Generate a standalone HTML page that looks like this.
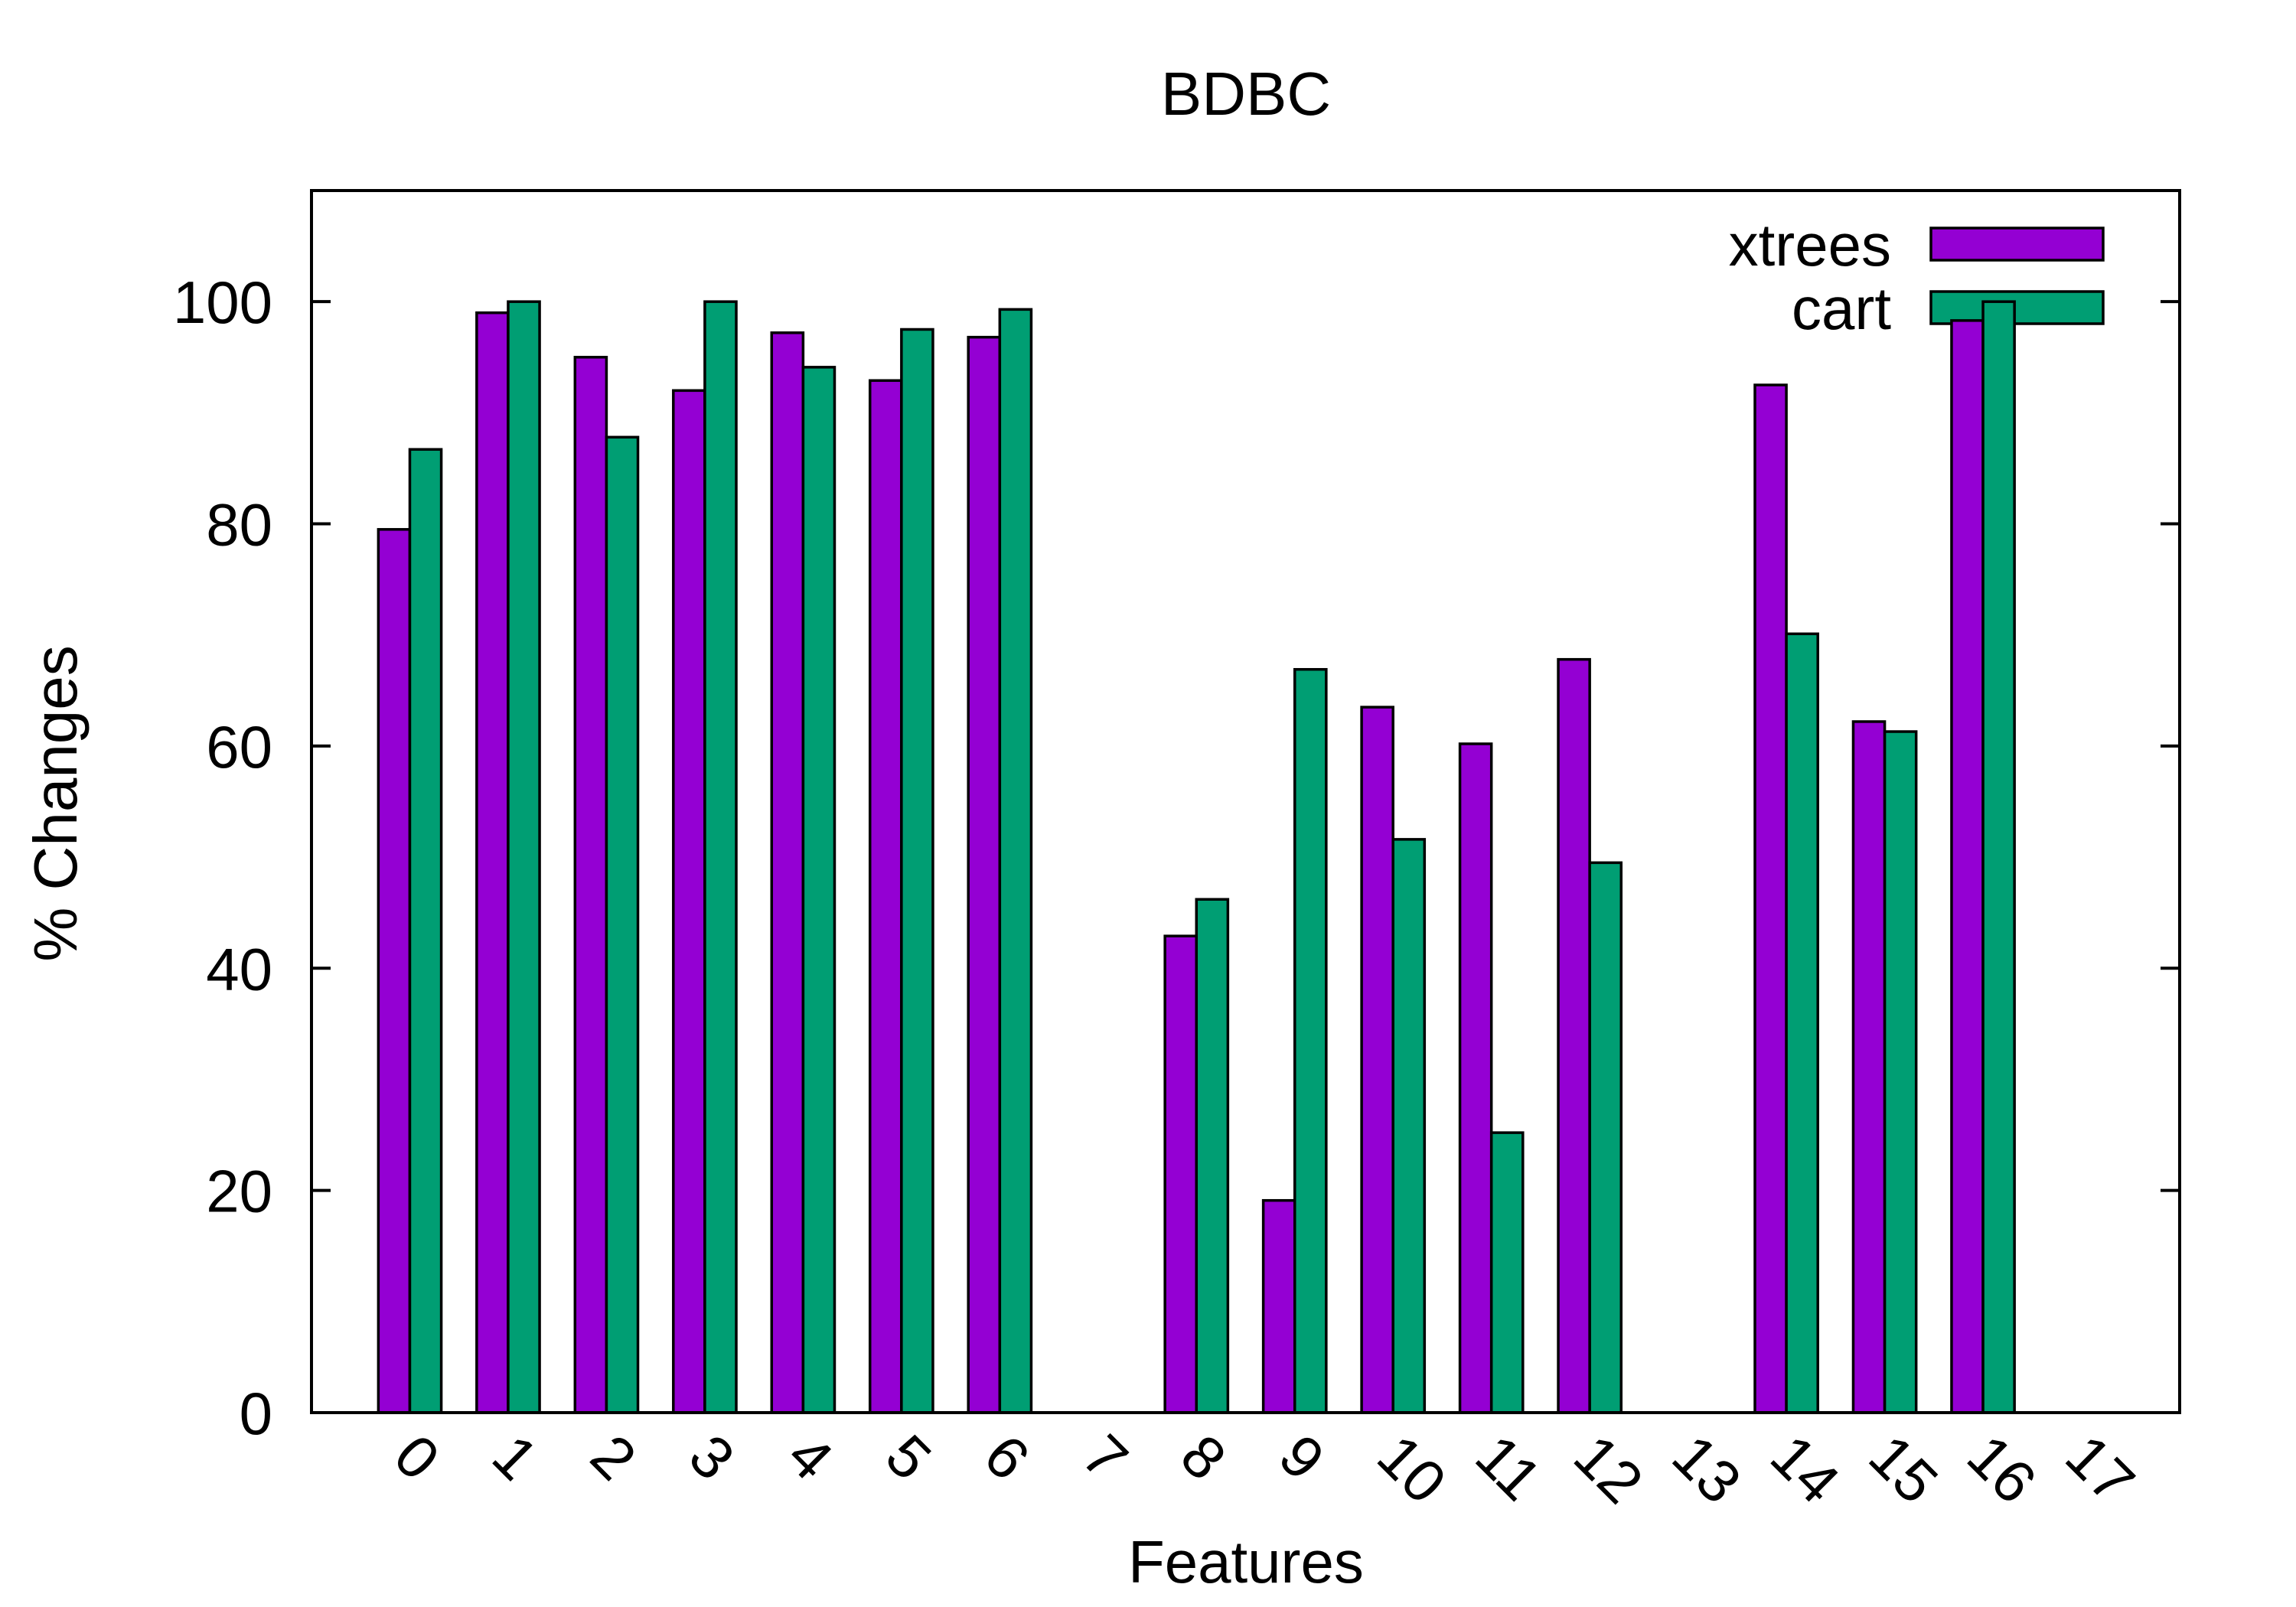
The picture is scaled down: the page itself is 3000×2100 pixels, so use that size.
<!DOCTYPE html>
<html><head><meta charset="utf-8"><style>
html,body{margin:0;padding:0;background:#fff;}
svg{display:block;font-family:"Liberation Sans",Arial,sans-serif;}
</style></head><body>
<svg id="chart" width="3000" height="2100" viewBox="0 0 3000 2100" xmlns="http://www.w3.org/2000/svg">
<rect x="0" y="0" width="3000" height="2100" fill="#fff"/>
<text x="1628" y="150" font-size="80" text-anchor="middle">BDBC</text>
<text x="1628" y="2068" font-size="78" text-anchor="middle">Features</text>
<text transform="translate(100,1050) rotate(-90)" font-size="80" text-anchor="middle">% Changes</text>
<g id="legend"></g>
<g id="bars"></g>
<g id="axes"></g>
</svg>
<script>
const categories = ["0","1","2","3","4","5","6","7","8","9","10","11","12","13","14","15","16","17"];
const xtreesValues = [79.5,99,95,92,97.2,92.9,96.8,0,42.9,19.1,63.5,60.2,67.8,0,92.5,62.2,98.3,0];
const cartValues = [86.7,100,87.8,100,94.1,97.5,99.3,0,46.2,66.9,51.6,25.2,49.5,0,70.1,61.3,100,0];
const yTicks = [0,20,40,60,80,100];
const seriesNames = ["xtrees","cart"];

const NS="http://www.w3.org/2000/svg";
const L=407,R=2848,T=249,B=1846, XMIN=-1,XMAX=18,YMAX=110;
const BW=0.32;
function xs(v){return L+(v-XMIN)/(XMAX-XMIN)*(R-L);}
function ys(v){return B-v/YMAX*(B-T);}
function mk(tag,attrs,parent){const e=document.createElementNS(NS,tag);for(const k in attrs)e.setAttribute(k,attrs[k]);parent.appendChild(e);return e;}
const bars=document.getElementById('bars'),axes=document.getElementById('axes'),legend=document.getElementById('legend');
const colors=["#9400d3","#009e73"];
categories.forEach((c,i)=>{
  [xtreesValues,cartValues].forEach((arr,s)=>{
    const v=arr[i]; if(v<=0) return;
    const x0=xs(i+(s===0?-BW:0)), x1=xs(i+(s===0?0:BW));
    const r=mk('rect',{x:x0,y:ys(v),width:x1-x0,height:ys(0)-ys(v),fill:colors[s],stroke:"#000","stroke-width":3.5},bars);
    
    
  });
});
const fr=mk('rect',{x:L,y:T,width:R-L,height:B-T,fill:"none",stroke:"#000","stroke-width":4},axes);


yTicks.forEach(t=>{
  const y=ys(t);
  mk('line',{x1:L,y1:y,x2:L+25,y2:y,stroke:"#000","stroke-width":4},axes);
  mk('line',{x1:R,y1:y,x2:R-25,y2:y,stroke:"#000","stroke-width":4},axes);
  const tx=mk('text',{x:356,y:y+28,"font-size":78,"text-anchor":"end"},axes);
  tx.textContent=t;
  
  
});
categories.forEach((c,i)=>{
  const x=xs(i);
  const tx=mk('text',{transform:`translate(${x-25},1908) rotate(45)`,"font-size":78},axes);
  tx.textContent=c;
  
  
});
[[319,298],[402,381]].forEach((p,s)=>{
  const t=mk('text',{x:2471,y:p[0]+28,"font-size":78,"text-anchor":"end"},legend);
  t.textContent=seriesNames[s];
  
  
  const r=mk('rect',{x:2523,y:p[1],width:225,height:42,fill:colors[s],stroke:"#000","stroke-width":3.5},legend);
  
  
});
</script>
</body></html>
